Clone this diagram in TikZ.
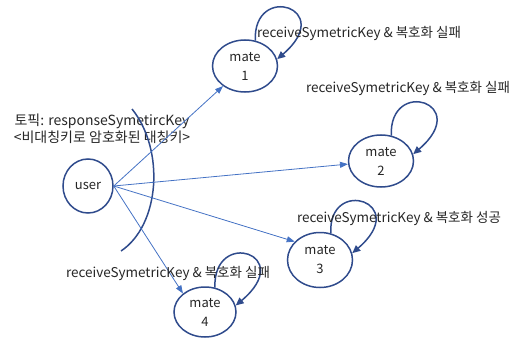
\documentclass[tikz,border=0pt]{standalone}
\usepackage{fontspec}
\setmainfont{Noto Sans CJK KR}
\usetikzlibrary{shapes.geometric,arrows.meta,calc}
\definecolor{navy}{HTML}{2F4B8C}
\definecolor{linkblue}{HTML}{4472C4}
\definecolor{ink}{HTML}{262626}
\tikzset{
  state/.style={ellipse,draw=navy,line width=1.5pt,inner sep=0pt,
    minimum width=65pt,minimum height=52pt,align=center,
    font=\fontsize{13}{19}\selectfont,text=ink},
  link/.style={draw=linkblue,line width=0.8pt,-{Triangle[length=8pt,width=6pt]}},
  selfloop/.style={draw=navy,line width=1.5pt,-{Triangle[length=8pt,width=7pt]}},
  lbl/.style={font=\fontsize{13.5}{17}\selectfont,text=ink,inner sep=0pt,align=center}
}
\newcommand{\loopat}[1]{%
  \draw[selfloop] (#1.68) .. controls ($(#1)+(8,-84)$) and ($(#1)+(92,-58)$) .. (#1.12);}
\begin{document}
\begin{tikzpicture}[x=1pt,y=-1pt]
\useasboundingbox (0,0) rectangle (516,342);

% states
\node[state,minimum width=50pt,minimum height=54pt] (u) at (88,186) {user};
\node[state] (m1) at (245,66) {mate\\1};
\node[state] (m2) at (381,161) {mate\\2};
\node[state,minimum height=55pt] (m3) at (320,260) {mate\\3};
\node[state,minimum width=62pt,minimum height=50pt] (m4) at (205,312) {mate\\4};

% topic label and its arc
\node[lbl,font=\fontsize{14}{17}\selectfont] (topic) at (102,129) {토픽: responseSymetircKey\\<비대칭키로 암호화된 대칭키>};
\draw[navy,line width=1.5pt] (132,109) .. controls (165,150) and (160,225) .. (121,251);

% publish links
\draw[link] (u.east) -- (m1);
\draw[link] (u.east) -- (m2);
\draw[link] (u.east) -- (m3.144);
\draw[link] (u.east) -- (m4.140);

% self loops
\loopat{m1}
\loopat{m2}
\loopat{m3}
\loopat{m4}

% loop labels
\node[lbl] (l1) at (359,33) {receiveSymetricKey \& 복호화 실패};
\node[lbl] (l2) at (408,88) {receiveSymetricKey \& 복호화 실패};
\node[lbl] (l3) at (399,218) {receiveSymetricKey \& 복호화 성공};
\node[lbl] (l4) at (168,273) {receiveSymetricKey \& 복호화 실패};
\end{tikzpicture}
\end{document}
